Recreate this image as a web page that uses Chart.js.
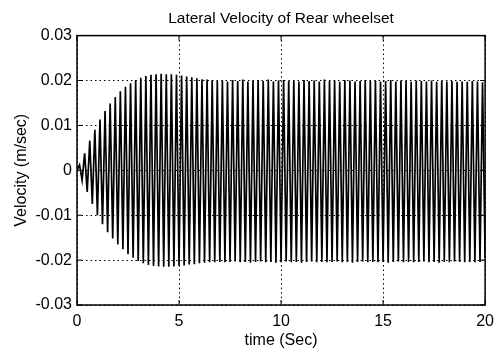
<!DOCTYPE html>
<html>
<head>
<meta charset="utf-8">
<script src="https://cdn.jsdelivr.net/npm/chart.js@4/dist/chart.umd.min.js"></script>
<style>
  html, body { margin: 0; padding: 0; background: #fff; }
  #wrap { width: 501px; height: 354px; }
</style>
</head>
<body>
<div id="wrap"><canvas id="velChart" width="501" height="354"></canvas></div>
<script>
// --- DATA (peaks / troughs of each half cycle) ---
const times = [
  0, 0.125, 0.25, 0.375, 0.5, 0.625, 0.75, 0.875,
  1, 1.125, 1.25, 1.375, 1.5, 1.625, 1.75, 1.875,
  2, 2.125, 2.25, 2.375, 2.5, 2.625, 2.75, 2.875,
  3, 3.125, 3.25, 3.375, 3.5, 3.625, 3.75, 3.875,
  4, 4.125, 4.25, 4.375, 4.5, 4.625, 4.75, 4.875,
  5, 5.125, 5.25, 5.375, 5.5, 5.625, 5.75, 5.875,
  6, 6.125, 6.25, 6.375, 6.5, 6.625, 6.75, 6.875,
  7, 7.125, 7.25, 7.375, 7.5, 7.625, 7.75, 7.875,
  8, 8.125, 8.25, 8.375, 8.5, 8.625, 8.75, 8.875,
  9, 9.125, 9.25, 9.375, 9.5, 9.625, 9.75, 9.875,
  10, 10.125, 10.25, 10.375, 10.5, 10.625, 10.75, 10.875,
  11, 11.125, 11.25, 11.375, 11.5, 11.625, 11.75, 11.875,
  12, 12.125, 12.25, 12.375, 12.5, 12.625, 12.75, 12.875,
  13, 13.125, 13.25, 13.375, 13.5, 13.625, 13.75, 13.875,
  14, 14.125, 14.25, 14.375, 14.5, 14.625, 14.75, 14.875,
  15, 15.125, 15.25, 15.375, 15.5, 15.625, 15.75, 15.875,
  16, 16.125, 16.25, 16.375, 16.5, 16.625, 16.75, 16.875,
  17, 17.125, 17.25, 17.375, 17.5, 17.625, 17.75, 17.875,
  18, 18.125, 18.25, 18.375, 18.5, 18.625, 18.75, 18.875,
  19, 19.125, 19.25, 19.375, 19.5, 19.625, 19.75, 19.875,
  20
];

const velocity = [
  0, 0.0012, -0.0022, 0.0038, -0.0048, 0.0066, -0.0075, 0.0090,
  -0.0100, 0.0113, -0.0120, 0.0132, -0.0138, 0.0149, -0.0152, 0.0163,
  -0.0165, 0.0176, -0.0176, 0.0186, -0.0187, 0.0194, -0.0195, 0.0201,
  -0.0202, 0.0206, -0.0207, 0.0210, -0.0211, 0.0213, -0.0213, 0.0214,
  -0.0214, 0.0215, -0.0215, 0.0214, -0.0215, 0.0214, -0.0214, 0.0213,
  -0.0213, 0.0211, -0.0212, 0.0209, -0.0210, 0.0207, -0.0209, 0.0205,
  -0.0207, 0.0203, -0.0206, 0.0202, -0.0205, 0.0201, -0.0205, 0.0199,
  -0.0204, 0.0200, -0.0205, 0.0198, -0.0204, 0.0201, -0.0203, 0.0199,
  -0.0205, 0.0202, -0.0204, 0.0198, -0.0206, 0.0200, -0.0204, 0.0201,
  -0.0203, 0.0199, -0.0205, 0.0202, -0.0204, 0.0198, -0.0206, 0.0200,
  -0.0205, 0.0201, -0.0203, 0.0199, -0.0205, 0.0200, -0.0204, 0.0198,
  -0.0206, 0.0201, -0.0204, 0.0199, -0.0203, 0.0200, -0.0205, 0.0198,
  -0.0204, 0.0202, -0.0205, 0.0199, -0.0204, 0.0200, -0.0203, 0.0197,
  -0.0205, 0.0201, -0.0204, 0.0200, -0.0206, 0.0198, -0.0204, 0.0199,
  -0.0203, 0.0201, -0.0205, 0.0199, -0.0204, 0.0200, -0.0205, 0.0198,
  -0.0204, 0.0199, -0.0206, 0.0201, -0.0204, 0.0198, -0.0203, 0.0200,
  -0.0205, 0.0199, -0.0204, 0.0197, -0.0205, 0.0200, -0.0204, 0.0199,
  -0.0203, 0.0198, -0.0205, 0.0200, -0.0204, 0.0197, -0.0206, 0.0199,
  -0.0204, 0.0198, -0.0205, 0.0199, -0.0203, 0.0197, -0.0204, 0.0198,
  -0.0205, 0.0197, -0.0204, 0.0199, -0.0205, 0.0198, -0.0204, 0.0196,
  -0.0195
];

const xTicks = [0, 5, 10, 15, 20];
const yTicks = [-0.03, -0.02, -0.01, 0, 0.01, 0.02, 0.03];

const FONT = "'Liberation Sans', Arial, sans-serif";

// --- BOX + INWARD TICK MARKS (matlab style axes) ---
const boxPlugin = {
  id: 'boxPlugin',
  afterDraw(chart) {
    const { ctx, chartArea: a, scales } = chart;
    ctx.save();
    ctx.strokeStyle = '#000';
    ctx.lineWidth = 1.5;
    ctx.strokeRect(a.left, a.top, a.right - a.left, a.bottom - a.top);
    ctx.lineWidth = 1;
    ctx.beginPath();
    xTicks.forEach(v => {
      const px = scales.x.getPixelForValue(v);
      ctx.moveTo(px, a.bottom); ctx.lineTo(px, a.bottom - 5);
      ctx.moveTo(px, a.top); ctx.lineTo(px, a.top + 5);
    });
    yTicks.forEach(v => {
      const py = scales.y.getPixelForValue(v);
      ctx.moveTo(a.left, py); ctx.lineTo(a.left + 5, py);
      ctx.moveTo(a.right, py); ctx.lineTo(a.right - 5, py);
    });
    ctx.stroke();
    ctx.restore();
  }
};

const points = times.map((t, i) => ({ x: t, y: velocity[i] }));

new Chart(document.getElementById('velChart'), {
  type: 'line',
  data: {
    datasets: [{
      data: points,
      borderColor: '#000',
      borderWidth: 1.7,
      pointRadius: 0,
      tension: 0,
      fill: false
    }]
  },
  options: {
    responsive: false,
    animation: false,
    layout: { padding: { left: 0, right: 9, top: 0, bottom: 0 } },
    plugins: {
      legend: { display: false },
      tooltip: { enabled: false },
      title: {
        display: true,
        fullSize: false,
        text: 'Lateral Velocity of Rear wheelset',
        color: '#000',
        font: { family: FONT, size: 15.5, weight: 'normal' },
        padding: { top: 9, bottom: 8 }
      }
    },
    scales: {
      x: {
        type: 'linear',
        min: 0,
        max: 20,
        afterFit: s => { s.height = 49; },
        afterBuildTicks: s => { s.ticks = xTicks.map(v => ({ value: v })); },
        ticks: {
          color: '#000',
          padding: 7,
          maxRotation: 0,
          font: { family: FONT, size: 16 }
        },
        grid: { color: '#000', lineWidth: 1, drawTicks: false },
        border: { display: false, dash: [1.5, 3] },
        title: {
          display: true,
          text: 'time (Sec)',
          color: '#000',
          font: { family: FONT, size: 16 },
          padding: { top: 0, bottom: 4 }
        }
      },
      y: {
        min: -0.03,
        max: 0.03,
        afterFit: s => { s.width = 77; },
        afterBuildTicks: s => { s.ticks = yTicks.map(v => ({ value: v })); },
        ticks: {
          color: '#000',
          padding: 5,
          font: { family: FONT, size: 16 },
          callback: v => (v === 0 ? '0' : v.toFixed(2))
        },
        grid: { color: '#000', lineWidth: 1, drawTicks: false },
        border: { display: false, dash: [1.5, 3] },
        title: {
          display: true,
          text: 'Velocity (m/sec)',
          color: '#000',
          font: { family: FONT, size: 16 },
          padding: { top: 12, bottom: 0 }
        }
      }
    }
  },
  plugins: [boxPlugin]
});
</script>
</body>
</html>
